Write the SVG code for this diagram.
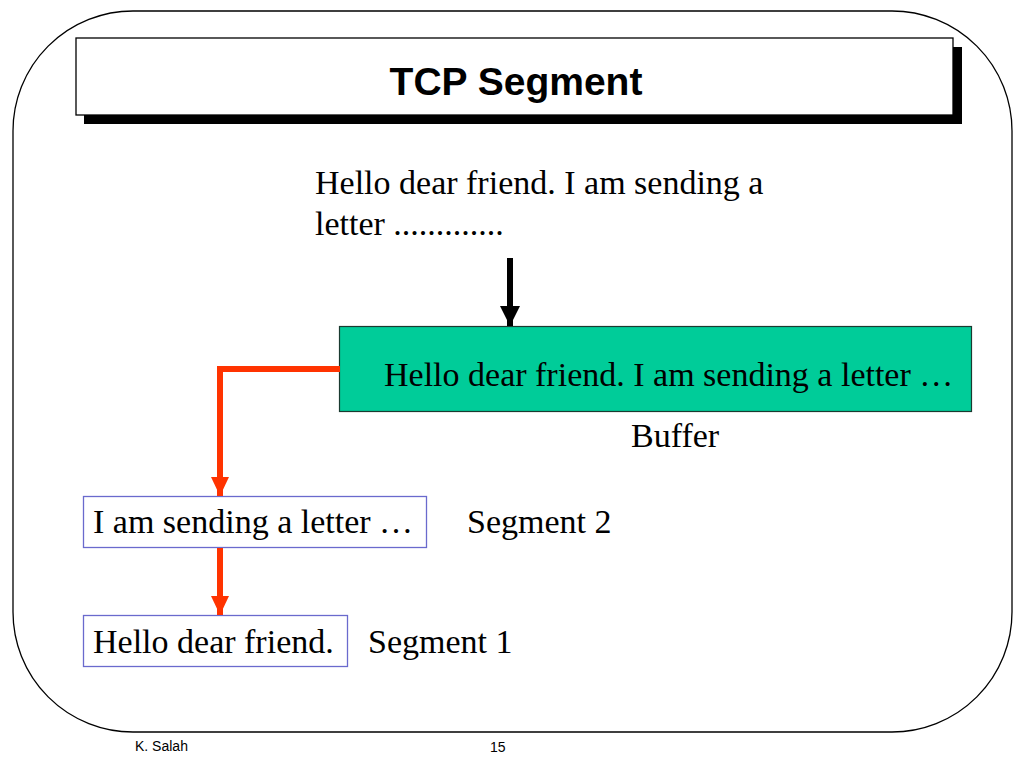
<svg xmlns="http://www.w3.org/2000/svg" width="1024" height="768" viewBox="0 0 1024 768">
  <defs>
    <style>
      .serif { font-family: "Liberation Serif", "Times New Roman", serif; font-size: 34px; fill: #000; }
      .sans { font-family: "Liberation Sans", Arial, sans-serif; fill: #000; }
      .segbox { fill: #fff; stroke: #6a6acd; stroke-width: 1.3; }
      .red { stroke: #ff3300; stroke-width: 6; fill: none; }
    </style>
    <marker id="redhead" markerUnits="userSpaceOnUse" markerWidth="20" markerHeight="20" viewBox="0 0 20 20" refX="19" refY="10" orient="auto">
      <path d="M0,1 L19,10 L0,19 Z" fill="#ff3300"/>
    </marker>
    <marker id="blackhead" markerUnits="userSpaceOnUse" markerWidth="22" markerHeight="22" viewBox="0 0 22 22" refX="20" refY="11" orient="auto">
      <path d="M0,1 L20,11 L0,21 Z" fill="#000"/>
    </marker>
  </defs>

  <rect width="1024" height="768" fill="#fff"/>

  <g id="frame">
    <rect x="13" y="11" width="999" height="721" rx="120" ry="120" fill="none" stroke="#000" stroke-width="1.3"/>
  </g>

  <g id="title">
    <rect x="84" y="47" width="878" height="77" fill="#000"/>
    <rect x="76" y="38" width="877" height="77" fill="#fff" stroke="#000" stroke-width="1.3"/>
    <text class="sans" x="516" y="95" font-size="39" font-weight="bold" text-anchor="middle">TCP Segment</text>
  </g>

  <g id="message">
    <text class="serif" x="315" y="194">Hello dear friend. I am sending a</text>
    <text class="serif" x="315" y="235">letter .............</text>
  </g>

  <g id="buffer">
    <rect x="339.5" y="326.5" width="632" height="85" fill="#00cc99" stroke="#1a3a30" stroke-width="1.2"/>
    <text class="serif" x="384" y="386">Hello dear friend. I am sending a letter …</text>
    <text class="serif" x="631" y="447">Buffer</text>
  </g>

  <g id="segment2">
    <rect class="segbox" x="83.5" y="496.5" width="343" height="51"/>
    <text class="serif" x="93" y="533">I am sending a letter …</text>
    <text class="serif" x="467" y="533">Segment 2</text>
  </g>

  <g id="segment1">
    <rect class="segbox" x="83.5" y="615.5" width="264" height="51"/>
    <text class="serif" x="93" y="653">Hello dear friend.</text>
    <text class="serif" x="368" y="653">Segment 1</text>
  </g>

  <g id="connectors">
    <line x1="510" y1="258" x2="510" y2="326" stroke="#000" stroke-width="6" marker-end="url(#blackhead)"/>
    <polyline class="red" points="340,369 220,369 220,496" marker-end="url(#redhead)"/>
    <line class="red" x1="220" y1="548" x2="220" y2="615" marker-end="url(#redhead)"/>
  </g>

  <g id="footer">
    <text class="sans" x="135" y="751" font-size="14">K. Salah</text>
    <text class="sans" x="490" y="752" font-size="14">15</text>
  </g>
</svg>
